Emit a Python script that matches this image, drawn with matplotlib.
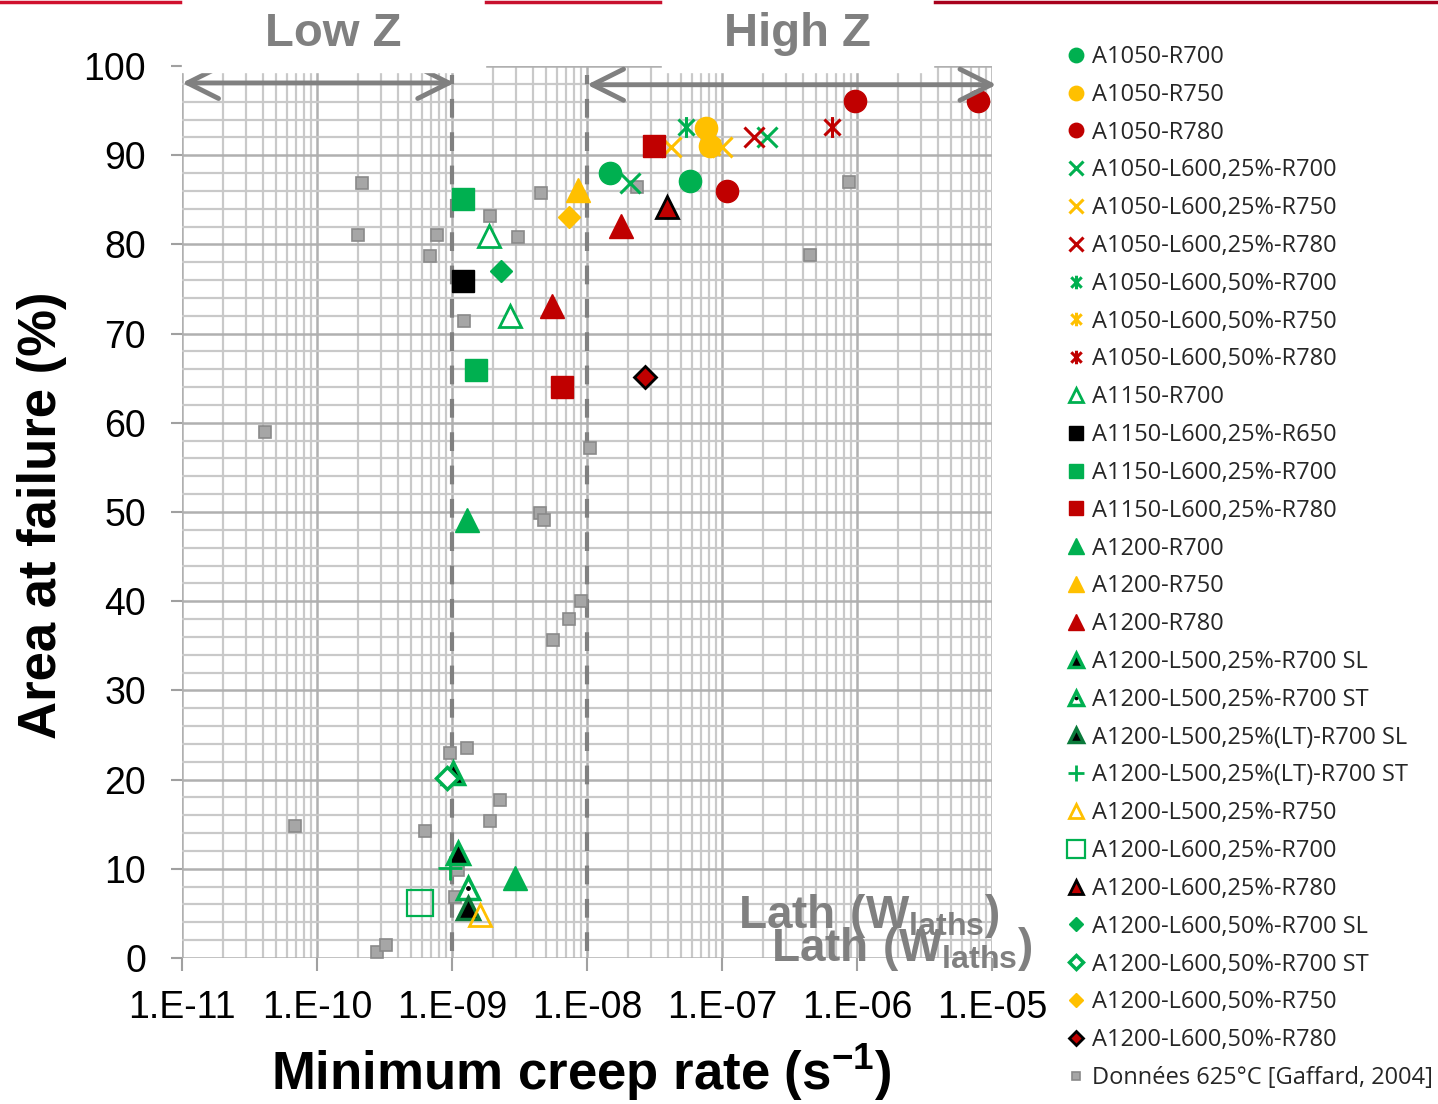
import matplotlib

matplotlib.use("Agg")
import matplotlib.pyplot as plt
from matplotlib.lines import Line2D
from matplotlib.patches import Rectangle
from matplotlib.path import Path
from matplotlib.ticker import LogLocator, MultipleLocator, NullFormatter
from matplotlib.legend_handler import HandlerTuple

plt.rcParams["font.family"] = ["Liberation Sans", "DejaVu Sans"]
plt.rcParams["mathtext.fontset"] = "custom"
plt.rcParams["mathtext.rm"] = "Liberation Sans"
plt.rcParams["mathtext.bf"] = "Liberation Sans:bold"

# %% Data (minimum creep rate in 1/s, area at failure in %)
rate_a1050_r700 = [1.48e-8, 5.8e-8]
area_a1050_r700 = [88.0, 87.1]
rate_a1050_r750 = [7.6e-8, 8.1e-8]
area_a1050_r750 = [93.0, 91.0]
rate_a1050_r780 = [1.09e-7, 9.7e-7, 7.9e-6]
area_a1050_r780 = [86.0, 96.1, 96.1]
rate_a1050_l25_r700 = [2.1e-8, 2.15e-7]
area_a1050_l25_r700 = [86.9, 92.0]
rate_a1050_l25_r750 = [4.2e-8, 1.0e-7]
area_a1050_l25_r750 = [90.9, 90.9]
rate_a1050_l25_r780 = [1.73e-7]
area_a1050_l25_r780 = [92.0]
rate_a1050_l50_r700 = [5.4e-8]
area_a1050_l50_r700 = [93.2]
rate_a1050_l50_r750 = [8.4e-8]
area_a1050_l50_r750 = [90.9]
rate_a1050_l50_r780 = [6.5e-7]
area_a1050_l50_r780 = [93.2]
rate_a1150_r700 = [1.88e-9, 2.69e-9]
area_a1150_r700 = [80.9, 72.0]
rate_a1150_l25_r650 = [1.2e-9]
area_a1150_l25_r650 = [75.9]
rate_a1150_l25_r700 = [1.2e-9, 1.5e-9]
area_a1150_l25_r700 = [85.1, 65.9]
rate_a1150_l25_r780 = [3.13e-8, 6.5e-9]
area_a1150_l25_r780 = [91.0, 64.0]
rate_a1200_r700 = [1.3e-9, 2.93e-9]
area_a1200_r700 = [49.1, 9.0]
rate_a1200_r750 = [8.6e-9]
area_a1200_r750 = [86.1]
rate_a1200_r780 = [5.5e-9, 1.79e-8]
area_a1200_r780 = [73.1, 82.1]
rate_a1200_l500_sl = [1.01e-9, 1.1e-9]
area_a1200_l500_sl = [20.7, 11.8]
rate_a1200_l500_st = [1.32e-9]
area_a1200_l500_st = [7.8]
rate_a1200_l500lt_sl = [1.32e-9]
area_a1200_l500lt_sl = [5.6]
rate_a1200_l500lt_st = [9.7e-10]
area_a1200_l500lt_st = [10.1]
rate_a1200_l500_r750 = [1.61e-9]
area_a1200_l500_r750 = [4.8]
rate_a1200_l25_r700 = [5.8e-10]
area_a1200_l25_r700 = [6.2]
rate_a1200_l25_r780 = [3.9e-8]
area_a1200_l25_r780 = [84.2]
rate_a1200_l50_sl = [2.31e-9]
area_a1200_l50_sl = [77.0]
rate_a1200_l50_st = [9.2e-10]
area_a1200_l50_st = [20.2]
rate_a1200_l50_r750 = [7.4e-9]
area_a1200_l50_r750 = [83.1]
rate_a1200_l50_r780 = [2.69e-8]
area_a1200_l50_r780 = [65.1]
rate_gaffard = [2.15e-10, 2.01e-10, 7.74e-10, 6.87e-10, 1.23e-9, 1.91e-9, 3.08e-9,
                4.56e-9, 2.35e-8, 8.73e-7, 4.49e-7, 4.12e-11, 1.05e-8, 4.49e-9,
                4.80e-9, 9.03e-9, 7.36e-9, 5.60e-9, 9.67e-10, 1.29e-9, 2.27e-9,
                1.91e-9, 6.31e-10, 6.87e-11, 2.78e-10, 3.24e-10, 1.10e-9, 1.05e-9]
area_gaffard = [86.9, 81.1, 81.1, 78.7, 71.4, 83.2, 80.8, 85.8, 86.4, 87.0, 78.8,
                59.0, 57.2, 49.9, 49.1, 40.0, 38.0, 35.7, 23.0, 23.5, 17.7, 15.4,
                14.2, 14.8, 0.7, 1.5, 9.9, 6.8]

decade_ticks = [1e-11, 1e-10, 1e-9, 1e-8, 1e-7, 1e-6, 1e-5]
decade_labels = ["1.E-11", "1.E-10", "1.E-09", "1.E-08", "1.E-07", "1.E-06", "1.E-05"]

# %% Styles
green = "#00B050"
yellow = "#FFC000"
red = "#C00000"
grey = "#808080"
star = Path([(-1, -1), (1, 1), (-1, 1), (1, -1), (0, -1.3), (0, 1.3)],
            [Path.MOVETO, Path.LINETO] * 3)

fig = plt.figure(figsize=(14.38, 11.04), dpi=100)
ax = fig.add_axes([182 / 1438, 1 - 958 / 1104, 810 / 1438, 892 / 1104])
ax.set_xscale("log")
ax.set(xlim=(1e-11, 1e-5), ylim=(0, 100))
ax.xaxis.set_minor_locator(LogLocator(base=10, subs=range(2, 10), numticks=20))
ax.xaxis.set_minor_formatter(NullFormatter())
ax.yaxis.set_major_locator(MultipleLocator(10))
ax.yaxis.set_minor_locator(MultipleLocator(2))
ax.set_xticks(decade_ticks, decade_labels)
ax.grid(which="minor", color="#c9c9c9", lw=1.6)
ax.grid(which="major", color="#b0b0b0", lw=1.8)
ax.set_axisbelow(True)
for s in ax.spines.values():
    s.set_visible(False)
ax.tick_params(which="minor", length=0)
ax.tick_params(axis="x", which="major", length=9, width=1.5, color="#a0a0a0",
               pad=14, labelsize=27)
ax.tick_params(axis="y", which="major", length=8, width=1.5, color="#a0a0a0",
               pad=18, labelsize=27)

# dashed limits of the two zones
ax.vlines([1e-9, 1e-8], 0.8, 99.0, colors=grey, lw=3, linestyles=(0, (4.5, 3.5)), zorder=2)


def mk(rate, area, label, z=4, **style):
    (h,) = ax.plot(rate, area, ls="none", label=label, zorder=z, **style)
    return h


h_gaf = mk(rate_gaffard, area_gaffard, "Données 625°C [Gaffard, 2004]", z=3,
           marker="s", ms=9, mfc="#a6a6a6", mec="#8a8a8a", mew=1.2)

handles = [
    mk(rate_a1050_r700, area_a1050_r700, "A1050-R700", marker="o", ms=16, mfc=green, mec=green),
    mk(rate_a1050_r750, area_a1050_r750, "A1050-R750", marker="o", ms=16, mfc=yellow, mec=yellow),
    mk(rate_a1050_r780, area_a1050_r780, "A1050-R780", marker="o", ms=16, mfc=red, mec=red),
    mk(rate_a1050_l25_r700, area_a1050_l25_r700, "A1050-L600,25%-R700", marker="x", ms=15, mec=green, mew=2.2),
    mk(rate_a1050_l25_r750, area_a1050_l25_r750, "A1050-L600,25%-R750", marker="x", ms=15, mec=yellow, mew=2.2),
    mk(rate_a1050_l25_r780, area_a1050_l25_r780, "A1050-L600,25%-R780", marker="x", ms=15, mec=red, mew=2.2),
    mk(rate_a1050_l50_r700, area_a1050_l50_r700, "A1050-L600,50%-R700", marker=star, ms=15, mec=green, mew=2.2),
    mk(rate_a1050_l50_r750, area_a1050_l50_r750, "A1050-L600,50%-R750", marker=star, ms=15, mec=yellow, mew=2.2),
    mk(rate_a1050_l50_r780, area_a1050_l50_r780, "A1050-L600,50%-R780", marker=star, ms=15, mec=red, mew=2.2),
    mk(rate_a1150_r700, area_a1150_r700, "A1150-R700", marker="^", ms=16, mfc="white", mec=green, mew=2),
    mk(rate_a1150_l25_r650, area_a1150_l25_r650, "A1150-L600,25%-R650", marker="s", ms=16, mfc="black", mec="black"),
    mk(rate_a1150_l25_r700, area_a1150_l25_r700, "A1150-L600,25%-R700", marker="s", ms=16, mfc=green, mec=green),
    mk(rate_a1150_l25_r780, area_a1150_l25_r780, "A1150-L600,25%-R780", marker="s", ms=16, mfc=red, mec=red),
    mk(rate_a1200_r700, area_a1200_r700, "A1200-R700", marker="^", ms=17, mfc=green, mec=green),
    mk(rate_a1200_r750, area_a1200_r750, "A1200-R750", marker="^", ms=17, mfc=yellow, mec=yellow),
    mk(rate_a1200_r780, area_a1200_r780, "A1200-R780", marker="^", ms=17, mfc=red, mec=red),
    mk(rate_a1200_l500_sl, area_a1200_l500_sl, "A1200-L500,25%-R700 SL", marker="^", ms=16, mfc="black", mec=green, mew=2.5),
    (mk(rate_a1200_l500_st, area_a1200_l500_st, "A1200-L500,25%-R700 ST", marker="^", ms=16, mfc="white", mec=green, mew=2.5),
     mk(rate_a1200_l500_st, area_a1200_l500_st, None, z=5, marker=".", ms=5, mfc="black", mec="black")),
    mk(rate_a1200_l500lt_sl, area_a1200_l500lt_sl, "A1200-L500,25%(LT)-R700 SL", marker="^", ms=16, mfc="black", mec="#0a7a3a", mew=2.5),
    mk(rate_a1200_l500lt_st, area_a1200_l500lt_st, "A1200-L500,25%(LT)-R700 ST", marker="+", ms=17, mec=green, mew=2),
    mk(rate_a1200_l500_r750, area_a1200_l500_r750, "A1200-L500,25%-R750", marker="^", ms=16, mfc="none", mec=yellow, mew=2),
    mk(rate_a1200_l25_r700, area_a1200_l25_r700, "A1200-L600,25%-R700", marker="s", ms=19, mfc="none", mec=green, mew=1.6),
    mk(rate_a1200_l25_r780, area_a1200_l25_r780, "A1200-L600,25%-R780", marker="^", ms=16, mfc=red, mec="black", mew=2),
    mk(rate_a1200_l50_sl, area_a1200_l50_sl, "A1200-L600,50%-R700 SL", marker="D", ms=11, mfc=green, mec=green),
    mk(rate_a1200_l50_st, area_a1200_l50_st, "A1200-L600,50%-R700 ST", marker="D", ms=11, mfc="white", mec=green, mew=2.5),
    mk(rate_a1200_l50_r750, area_a1200_l50_r750, "A1200-L600,50%-R750", marker="D", ms=11, mfc=yellow, mec=yellow),
    mk(rate_a1200_l50_r780, area_a1200_l50_r780, "A1200-L600,50%-R780", marker="D", ms=11, mfc=red, mec="black", mew=2),
    h_gaf,
]
labels = [h[0].get_label() if isinstance(h, tuple) else h.get_label() for h in handles]

# zone arrows
arrow = dict(arrowstyle="<->,head_length=0.8,head_width=0.4", color=grey, lw=3.5,
             shrinkA=0, shrinkB=0, mutation_scale=28)
ax.annotate("", xy=(1.04e-9, 98.1), xytext=(1e-11, 98.1), arrowprops=arrow,
            annotation_clip=False, zorder=6)
ax.annotate("", xy=(1.08e-5, 97.9), xytext=(1e-8, 97.9), arrowprops=arrow,
            annotation_clip=False, zorder=6)

# white title boxes and slide header line
fig.add_artist(Rectangle((182 / 1438, 1 - 72 / 1104), 303 / 1438, 72 / 1104,
                         transform=fig.transFigure, color="white", zorder=2))
fig.add_artist(Rectangle((662 / 1438, 1 - 72 / 1104), 271 / 1438, 72 / 1104,
                         transform=fig.transFigure, color="white", zorder=2))
for x0, x1, c in [(0, 180, "#d0102e"), (486, 660, "#c8102e"), (935, 1438, "#a8001c")]:
    fig.add_artist(Line2D([x0 / 1438, x1 / 1438], [1 - 1.5 / 1104] * 2, color=c, lw=2.5,
                          transform=fig.transFigure, zorder=3))

fig.text(333 / 1438, 1 - 34 / 1104, "Low Z", ha="center", va="center", fontsize=34,
         fontweight="bold", color=grey)
fig.text(797 / 1438, 1 - 34 / 1104, "High Z", ha="center", va="center", fontsize=34,
         fontweight="bold", color=grey)

lath = r"$\mathbf{Lath\ (W_{laths})}$"
fig.text(738 / 1438, 1 - 928 / 1104, lath, ha="left", va="baseline", fontsize=33, color=grey)
fig.text(771 / 1438, 1 - 961 / 1104, lath, ha="left", va="baseline", fontsize=33, color=grey)

fig.text(42 / 1438, 1 - 515 / 1104, "Area at failure (%)", rotation=90, ha="center",
         va="center", fontsize=38, fontweight="bold")
fig.text(581 / 1438, 1 - 1072 / 1104, r"Minimum creep rate (s$^{\mathbf{-1}}$)", ha="center",
         va="center", fontsize=38, fontweight="bold")

fig.legend(handles, labels, loc="upper left", bbox_to_anchor=(1068 / 1438, 1 - 45 / 1104),
           frameon=False, prop={"family": "Open Sans", "size": 17}, markerscale=0.65,
           handlelength=0.7, handletextpad=0.3, labelspacing=0.585, borderpad=0,
           borderaxespad=0, labelcolor="#262626",
           handler_map={tuple: HandlerTuple(ndivide=1)})

fig.savefig("out.png", dpi=100)
